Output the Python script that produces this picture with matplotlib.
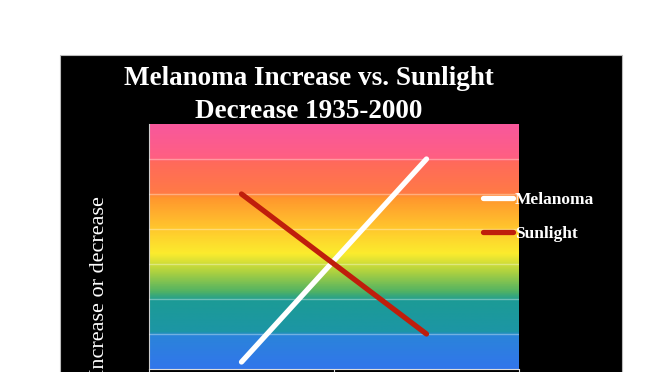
import matplotlib
matplotlib.use("Agg")
import matplotlib.pyplot as plt
import numpy as np
from matplotlib.colors import LinearSegmentedColormap
from matplotlib.patches import Rectangle

# data
categories = ["1935", "2000"]
melanoma = [0.2, 6.0]
sunlight = [5.0, 1.0]
y_max = 7

plt.rcParams['font.family'] = ['Liberation Serif', 'DejaVu Serif']

fig = plt.figure(figsize=(6.72, 3.72), dpi=100)
fig.patch.set_facecolor('white')

# black slide panel
panel = Rectangle((60 / 672, -0.1), 562 / 672, 1.1 - 55 / 372, transform=fig.transFigure,
                  facecolor='black', edgecolor='#bbbbbb', linewidth=0.8, zorder=-5)
fig.patches.append(panel)

ax = fig.add_axes([149 / 672, 3 / 372, 370 / 672, 245 / 372])
ax.set_facecolor('none')

# rainbow background of the plot area
stops = [
    (0.0, (50, 118, 235)),
    (0.95 / 7, (42, 132, 218)),
    (1.05 / 7, (28, 150, 165)),
    (1.95 / 7, (28, 155, 150)),
    (2.2 / 7, (80, 178, 100)),
    (2.75 / 7, (170, 208, 65)),
    (3.3 / 7, (252, 236, 45)),
    (4.0 / 7, (255, 200, 45)),
    (4.9 / 7, (255, 150, 45)),
    (5.05 / 7, (255, 122, 70)),
    (5.95 / 7, (255, 105, 92)),
    (6.05 / 7, (255, 95, 130)),
    (1.0, (248, 88, 156)),
]
cmap = LinearSegmentedColormap.from_list(
    'rainbow_bg', [(p, tuple(c / 255 for c in rgb)) for p, rgb in stops])
grad = np.linspace(0, 1, 400).reshape(-1, 1)
ax.imshow(grad, cmap=cmap, aspect='auto', origin='lower',
          extent=(-0.5, 1.5, 0, y_max), zorder=0)

x = np.arange(len(categories))
ax.plot(x, melanoma, color='white', lw=3.8, solid_capstyle='round', label='Melanoma', zorder=3)
ax.plot(x, sunlight, color='#bf1e0c', lw=3.8, solid_capstyle='round', label='Sunlight', zorder=3)

ax.set_xlim(-0.5, 1.5)
ax.set_ylim(0, y_max)
ax.set_yticks(range(1, y_max))
ax.yaxis.grid(True, color='white', alpha=0.35, lw=1)
ax.set_axisbelow(False)
ax.tick_params(axis='y', length=0, labelleft=False)
ax.set_xticks([-0.5, 0.5, 1.5])
ax.tick_params(axis='x', colors='#dddddd', length=6, labelbottom=False)
for s in ['top', 'right']:
    ax.spines[s].set_visible(False)
ax.spines['left'].set_color('#cccccc')
ax.spines['bottom'].set_color('#dddddd')

leg = ax.legend(loc='center left', bbox_to_anchor=(467 / 672, 1 - 217 / 372),
                bbox_transform=fig.transFigure, frameon=False,
                handlelength=1.75, handletextpad=0.1, labelspacing=1.05,
                prop={'weight': 'bold', 'size': 12.5})
for t in leg.get_texts():
    t.set_color('white')

fig.text(309 / 672, 1 - 95 / 372, 'Melanoma Increase vs. Sunlight\nDecrease 1935-2000',
         ha='center', va='center', color='white', fontsize=19.5, fontweight='bold',
         linespacing=1.4)

fig.text(100 / 672, 1 - 286 / 372, 'Increase or decrease', rotation=90,
         ha='center', va='center', color='white', fontsize=16)

fig.savefig('out.png', dpi=100)
